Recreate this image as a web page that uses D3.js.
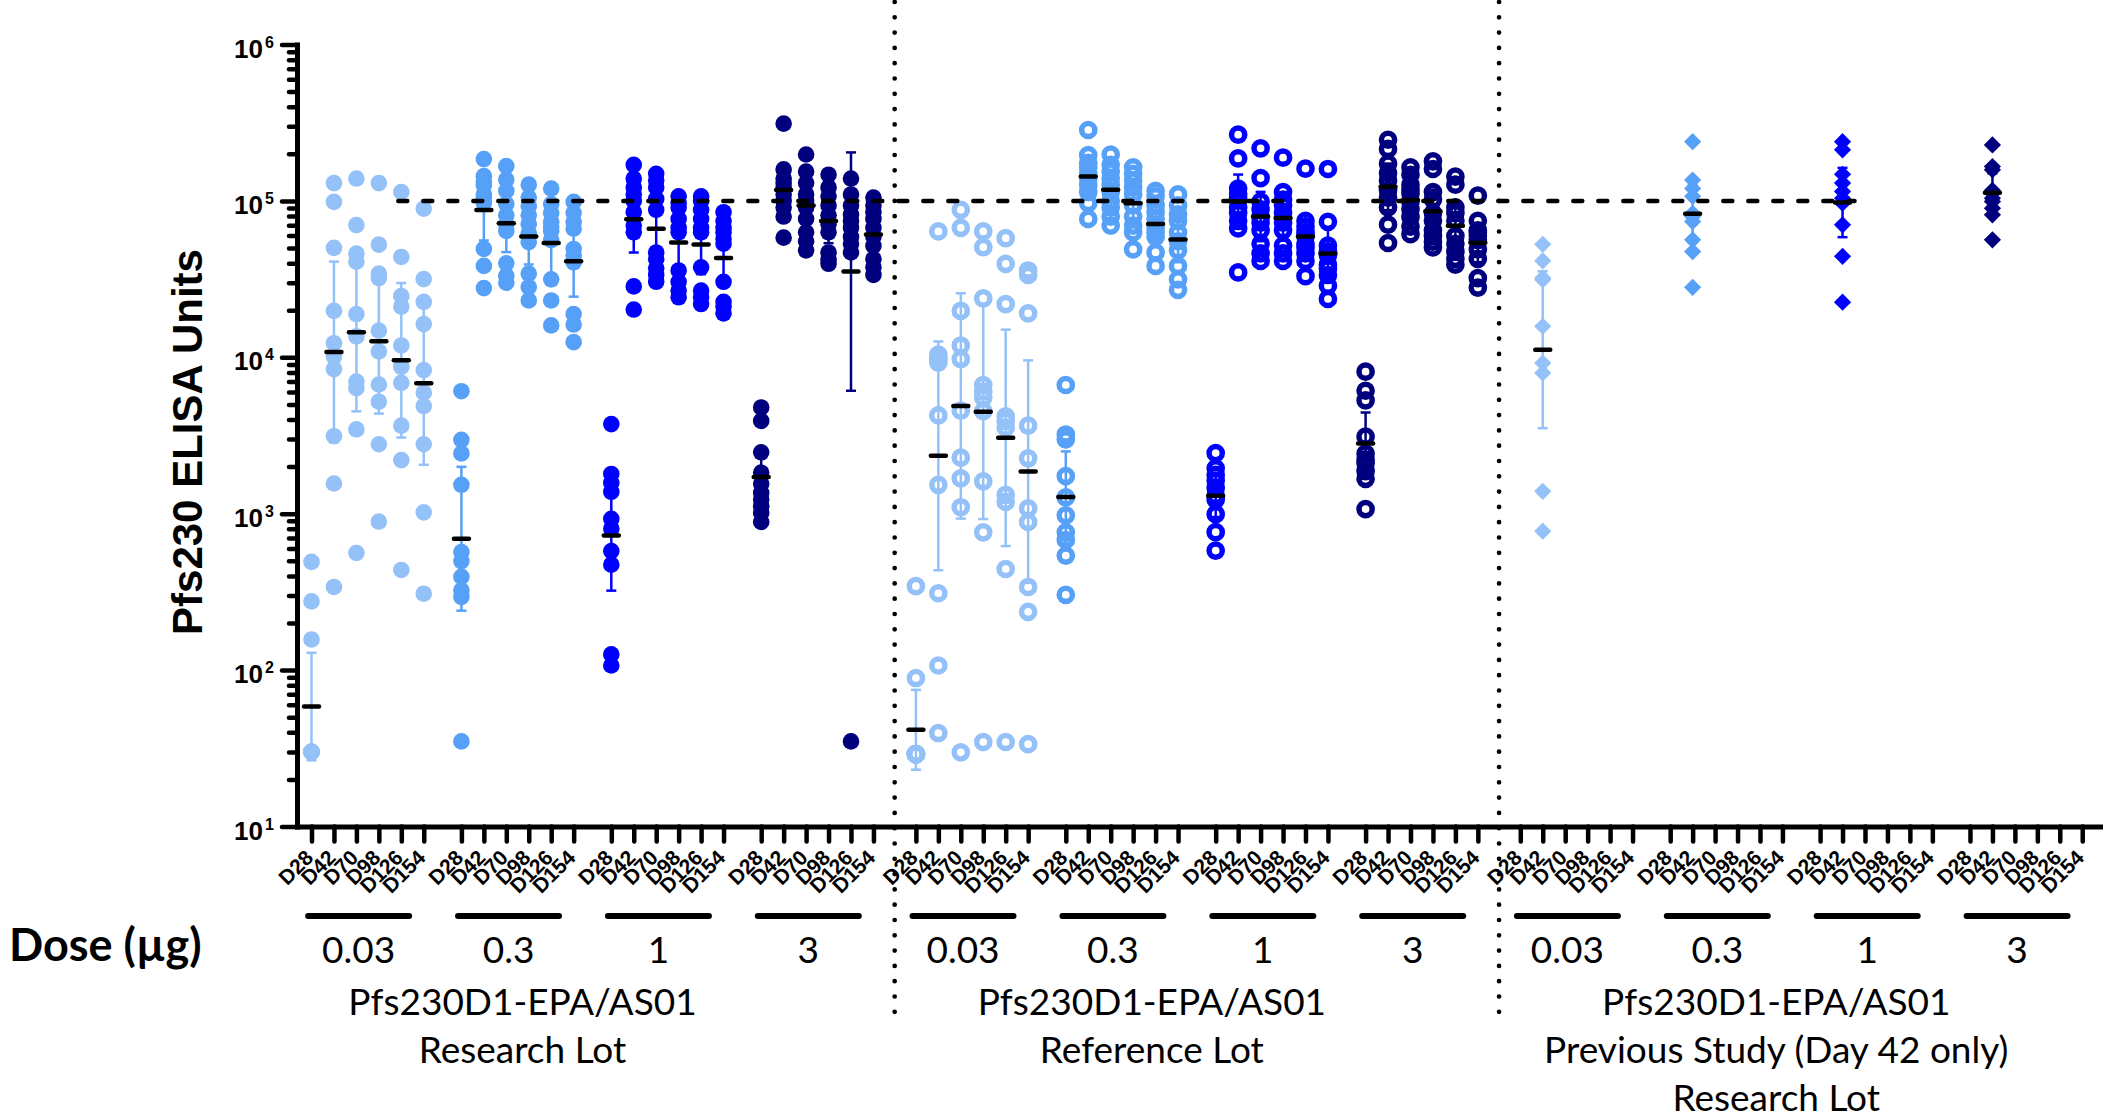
<!DOCTYPE html>
<html>
<head>
<meta charset="utf-8">
<script src="https://cdn.jsdelivr.net/npm/d3@7"></script>
<style>
  html, body { margin: 0; padding: 0; background: #fff; }
  svg { display: block; }
</style>
</head>
<body>
<svg id="chart" width="2103" height="1120"></svg>
<script>
// ---------- categories ----------
const days = ["D28", "D42", "D70", "D98", "D126", "D154"];
const doses = ["0.03", "0.3", "1", "3"];
const sectionTitles = [
  ["Pfs230D1-EPA/AS01", "Research Lot"],
  ["Pfs230D1-EPA/AS01", "Reference Lot"],
  ["Pfs230D1-EPA/AS01", "Previous Study (Day 42 only)", "Research Lot"]
];
const yExponents = [1, 2, 3, 4, 5, 6];
const thresholdValue = 1e5;

// ---------- ELISA units per subject, one inner array per study day ----------
const research003 = [
  [492, 275, 157, 30, 30, 30, 30, 30, 30, 30],
  [130000, 98600, 50100, 19800, 12300, 10100, 8400, 3130, 1560, 340],
  [139000, 70000, 46100, 40900, 18900, 13600, 7000, 6350, 3460, 561],
  [130000, 52500, 34300, 32100, 14800, 10900, 6700, 5200, 2780, 891],
  [114000, 43800, 24600, 21100, 11900, 8670, 6870, 3660, 2200, 437],
  [89300, 31600, 22600, 16300, 8280, 5940, 4880, 2780, 1020, 308]
];
const research03 = [
  [6070, 2970, 2430, 1530, 569, 498, 395, 324, 294, 35],
  [185000, 144000, 133000, 126000, 110000, 105000, 96800, 49300, 38400, 27700],
  [167000, 137000, 116000, 95500, 80900, 71000, 64300, 39900, 33200, 30000],
  [127000, 105000, 92500, 80900, 71000, 62100, 54500, 34300, 28100, 23100],
  [120000, 95500, 83600, 73300, 68500, 64300, 56200, 31500, 23100, 16000],
  [98600, 83600, 73300, 66400, 49300, 44700, 40500, 18900, 16200, 12500]
];
const research1 = [
  [3740, 1795, 1574, 1380, 927, 802, 577, 472, 126, 107],
  [170000, 139000, 122000, 110000, 100000, 84700, 69500, 63000, 28400, 20200],
  [149000, 135000, 122000, 103000, 87700, 46800, 42400, 37100, 33600, 30400],
  [107000, 96800, 90600, 76700, 67300, 63000, 35900, 30400, 26700, 24200],
  [107000, 100000, 87700, 76700, 67300, 63000, 37600, 26700, 24200, 21900],
  [84700, 74300, 67300, 63000, 57000, 53300, 30400, 22600, 21100, 19100]
];
const research3 = [
  [4780, 3920, 2470, 1830, 1556, 1361, 1233, 1117, 1012, 885],
  [312000, 159000, 139000, 130000, 122000, 110000, 100000, 90600, 79400, 58200],
  [198000, 154000, 130000, 110000, 100000, 90600, 76700, 63000, 55200, 48300],
  [147000, 122000, 107000, 93500, 80900, 71000, 63000, 46800, 42400, 39600],
  [139000, 110000, 93500, 82000, 74300, 67300, 58900, 53300, 46800, 35],
  [105000, 93500, 84700, 76700, 67300, 58900, 51600, 42400, 37600, 33600]
];
const reference003 = [
  [344, 89, 29, 29, 29, 29, 29, 29, 29, 29],
  [63800, 10400, 9900, 9600, 9250, 4250, 1530, 310, 107, 39.6],
  [87700, 67300, 19800, 11900, 9750, 4560, 2280, 1680, 1100, 29.8],
  [63800, 50600, 23800, 6650, 6030, 5520, 4530, 1610, 760, 34.7],
  [57800, 39600, 21900, 4190, 3920, 3550, 1320, 1190, 443, 34.7],
  [35900, 33600, 19100, 3660, 2260, 1080, 885, 340, 236, 33.6]
];
const reference03 = [
  [6650, 3210, 2990, 1740, 1270, 977, 760, 679, 540, 303],
  [284000, 196000, 175000, 164000, 151000, 139000, 126000, 114000, 96800, 76700],
  [198000, 170000, 154000, 139000, 126000, 114000, 100000, 90600, 79400, 69500],
  [164000, 149000, 135000, 122000, 110000, 93500, 79400, 69500, 63000, 49000],
  [116000, 107000, 93500, 84700, 76700, 67300, 63000, 58900, 46800, 38400],
  [110000, 93500, 82000, 74300, 63000, 55200, 48300, 38400, 31500, 27000]
];
const reference1 = [
  [2440, 1950, 1770, 1630, 1460, 1300, 1230, 993, 762, 581],
  [265000, 187000, 120000, 111000, 104000, 90800, 83600, 74600, 66700, 34900],
  [217000, 140000, 98900, 88300, 78900, 72600, 64900, 53200, 46200, 41300],
  [189000, 114000, 102000, 93500, 83600, 72600, 64900, 51800, 46200, 41300],
  [161000, 74600, 68500, 63100, 59600, 53200, 50400, 46200, 41300, 33000],
  [160000, 73500, 51800, 47500, 45000, 39100, 37000, 33600, 28700, 23600]
];
const reference3 = [
  [8090, 6110, 5310, 3110, 2420, 2220, 2100, 1870, 1670, 1070],
  [246000, 215000, 173000, 151000, 135000, 117000, 105000, 90800, 70600, 53800],
  [164000, 147000, 127000, 117000, 111000, 98900, 88300, 78900, 68500, 61200],
  [179000, 160000, 114000, 102000, 83600, 74600, 64900, 59600, 54800, 50400],
  [143000, 127000, 90800, 83600, 74600, 59600, 53200, 47500, 42600, 39100],
  [108000, 74600, 64900, 63000, 60000, 56400, 49000, 42600, 32100, 27900]
];
// previous study: day 42 only
const previous003 = [52800, 41400, 32100, 31300, 15800, 9180, 7940, 1390, 773];
const previous03 = [239000, 136000, 120000, 107000, 83400, 79400, 73800, 56400, 47400, 28000];
const previous1 = [239000, 212000, 148000, 130000, 115000, 104000, 96600, 70300, 44200, 22500];
const previous3 = [228000, 166000, 158000, 117000, 112000, 104000, 99000, 89700, 81500, 56400];

// ---------- styles ----------
const doseColors = ["#94c1f7", "#56a0f8", "#0000ff", "#00007f"];
const arialBold = "'Liberation Sans', Arial, sans-serif";
const humanist = "Lato, 'Open Sans', sans-serif";

// ---------- layout ----------
const W = 2103, H = 1120;
const AX = { left: 297, right: 2103, top: 44.5, bottom: 826.5 };
const groupPitch = 6.677, sectionExtra = 0.214;
const slotOf = (s, d, k) => (s * 4 + d) * groupPitch + s * sectionExtra + k;

const x = d3.scaleLinear().domain([-0.646, 79.8]).range([AX.left, AX.right]);
const y = d3.scaleLog().domain([10, 1e6]).range([AX.bottom, AX.top]);

const svg = d3.select("#chart");

// two-sided 95% t quantiles by degrees of freedom
const t975 = { 5: 2.571, 6: 2.447, 7: 2.365, 8: 2.306, 9: 2.262, 10: 2.228, 11: 2.201 };

// assemble columns with geometric mean and 95% CI
const sectionData = [
  [research003, research03, research1, research3],
  [reference003, reference03, reference1, reference3],
  [[[], previous003, [], [], [], []], [[], previous03, [], [], [], []],
   [[], previous1, [], [], [], []], [[], previous3, [], [], [], []]]
];
const columns = [];
sectionData.forEach((secArr, s) => secArr.forEach((doseArr, d) => doseArr.forEach((vals, k) => {
  if (!vals.length) return;
  const logs = vals.map(Math.log10);
  const m = d3.mean(logs);
  const half = t975[vals.length - 1] * d3.deviation(logs) / Math.sqrt(vals.length);
  columns.push({ s, d, k, vals, gm: Math.pow(10, m), lo: Math.pow(10, m - half), hi: Math.pow(10, m + half) });
})));

// ---------- axes ----------
const allSlots = [];
for (let s = 0; s < 3; s++) for (let d = 0; d < 4; d++) for (let k = 0; k < 6; k++) allSlots.push({ s, d, k, v: slotOf(s, d, k) });

const majors = yExponents.map(e => Math.pow(10, e));
const minors = [];
yExponents.slice(0, -1).forEach(e => { for (let m = 2; m <= 9; m++) minors.push(m * Math.pow(10, e)); });

const yAxisG = svg.append("g").attr("transform", `translate(${AX.left},0)`)
  .call(d3.axisLeft(y).tickValues(majors).tickSize(15).tickSizeOuter(0).tickFormat(""));
const yMinorG = svg.append("g").attr("transform", `translate(${AX.left},0)`)
  .call(d3.axisLeft(y).tickValues(minors).tickSize(8).tickSizeOuter(0).tickFormat(""));
yMinorG.select(".domain").remove();

const xAxisG = svg.append("g").attr("transform", `translate(0,${AX.bottom})`)
  .call(d3.axisBottom(x).tickValues(allSlots.map(t => t.v)).tickSize(15).tickSizeOuter(0).tickFormat(""));

[yAxisG, yMinorG, xAxisG].forEach(g => {
  g.selectAll(".tick line").attr("stroke", "#000").attr("stroke-width", 4.5).attr("stroke-linecap", "round");
  g.select(".domain").attr("stroke", "#000").attr("stroke-width", 5).attr("stroke-linecap", "square");
});

// y tick labels: 10 with superscript exponent
const yLab = svg.append("g").attr("font-family", arialBold).attr("font-weight", "bold").attr("fill", "#000");
yExponents.forEach(e => {
  const yy = y(Math.pow(10, e));
  yLab.append("text").attr("x", 263).attr("y", yy + 13).attr("text-anchor", "end")
    .attr("font-size", 26).text("10");
  yLab.append("text").attr("x", 265).attr("y", yy + 3).attr("text-anchor", "start")
    .attr("font-size", 16).text(e);
});

// x tick labels (rotated day labels)
svg.append("g").attr("font-family", arialBold).attr("font-weight", "bold").attr("font-size", 21)
  .selectAll("text").data(allSlots).join("text")
  .attr("text-anchor", "end")
  .attr("transform", t => `translate(${x(t.v) + 3},859) rotate(-45)`)
  .text(t => days[t.k]);

// y axis title
svg.append("text")
  .attr("transform", "translate(202,442) rotate(-90)")
  .attr("text-anchor", "middle").attr("font-family", arialBold).attr("font-weight", "bold")
  .attr("font-size", 42).text("Pfs230 ELISA Units");

// ---------- section separators ----------
[0, 1].forEach(s => {
  const xm = (x(slotOf(s, 3, 5)) + x(slotOf(s + 1, 0, 0))) / 2;
  svg.append("line").attr("x1", xm).attr("x2", xm).attr("y1", 2).attr("y2", 1024)
    .attr("stroke", "#000").attr("stroke-width", 4.7).attr("stroke-linecap", "round")
    .attr("stroke-dasharray", "0 15.3");
});

// ---------- dose bars, dose labels, section titles ----------
const under = svg.append("g");
for (let s = 0; s < 3; s++) for (let d = 0; d < 4; d++) {
  const c = (x(slotOf(s, d, 0)) + x(slotOf(s, d, 5))) / 2 - 9;
  under.append("line").attr("x1", c - 50.5).attr("x2", c + 50.5).attr("y1", 916).attr("y2", 916)
    .attr("stroke", "#000").attr("stroke-width", 6).attr("stroke-linecap", "round");
  under.append("text").attr("x", c).attr("y", 963).attr("text-anchor", "middle")
    .attr("font-family", humanist).attr("font-size", 37).text(doses[d]);
}
const titleShift = [-70, -45, -25];
const titleBaselines = [1015, 1063, 1111];
sectionTitles.forEach((lines, s) => {
  const c = (x(slotOf(s, 0, 0)) + x(slotOf(s, 3, 5))) / 2 + titleShift[s];
  lines.forEach((ln, i) => {
    svg.append("text").attr("x", c).attr("y", titleBaselines[i]).attr("text-anchor", "middle")
      .attr("font-family", humanist).attr("font-size", 37).text(ln);
  });
});
svg.append("text").attr("x", 9).attr("y", 961).attr("font-family", humanist)
  .attr("font-weight", "bold").attr("font-size", 45).text("Dose (\u00b5g)");

// ---------- data: error bars (geometric mean, 95% CI) ----------
const plot = svg.append("g");
const eb = plot.append("g");
columns.forEach(c => {
  const cx = x(slotOf(c.s, c.d, c.k));
  const col = doseColors[c.d];
  eb.append("line").attr("x1", cx).attr("x2", cx).attr("y1", y(c.lo)).attr("y2", y(c.hi))
    .attr("stroke", col).attr("stroke-width", 2.5);
  [c.lo, c.hi].forEach(v => eb.append("line").attr("x1", cx - 5).attr("x2", cx + 5)
    .attr("y1", y(v)).attr("y2", y(v)).attr("stroke", col).attr("stroke-width", 2.5));
});

// ---------- data: points ----------
const pts = plot.append("g");
const diamond = r => `M0,${-r}L${r},0L0,${r}L${-r},0Z`;
columns.forEach(c => {
  const cx = x(slotOf(c.s, c.d, c.k));
  const col = doseColors[c.d];
  c.vals.forEach(v => {
    const cy = y(v);
    if (c.s === 0) {
      pts.append("circle").attr("cx", cx).attr("cy", cy).attr("r", 8.3).attr("fill", col);
    } else if (c.s === 1) {
      pts.append("circle").attr("cx", cx).attr("cy", cy).attr("r", 6.6)
        .attr("fill", "none").attr("stroke", col).attr("stroke-width", 5.5);
    } else {
      pts.append("path").attr("transform", `translate(${cx},${cy})`).attr("d", diamond(8.6)).attr("fill", col);
    }
  });
});

// ---------- geometric mean markers ----------
const gmG = plot.append("g");
columns.forEach(c => {
  const cx = x(slotOf(c.s, c.d, c.k));
  gmG.append("line").attr("x1", cx - 7.5).attr("x2", cx + 7.5).attr("y1", y(c.gm)).attr("y2", y(c.gm))
    .attr("stroke", "#000").attr("stroke-width", 4.5).attr("stroke-linecap", "round");
});

// ---------- 10^5 reference line ----------
svg.append("line")
  .attr("x1", x(slotOf(0, 0, 4)) - 3).attr("x2", x(slotOf(2, 2, 1)) + 12)
  .attr("y1", y(thresholdValue)).attr("y2", y(thresholdValue))
  .attr("stroke", "#000").attr("stroke-width", 4.5).attr("stroke-linecap", "round")
  .attr("stroke-dasharray", "9 16");
</script>
</body>
</html>
